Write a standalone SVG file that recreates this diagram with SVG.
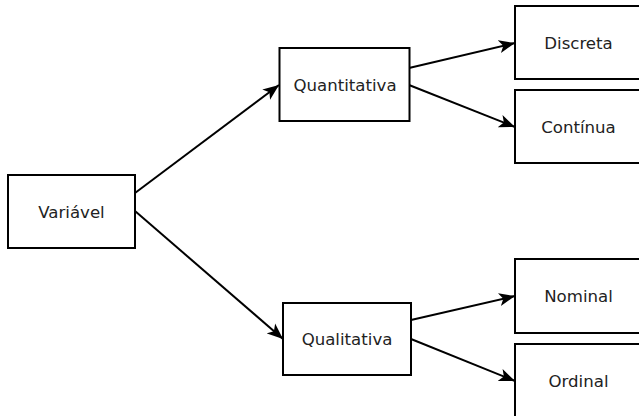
<svg xmlns="http://www.w3.org/2000/svg" width="639" height="416" viewBox="0 0 639 416">
<defs>
<marker id="arr" markerUnits="userSpaceOnUse" markerWidth="18" markerHeight="14" refX="16" refY="7" orient="auto" viewBox="0 0 18 14">
<path d="M0,0.5 L16,7 L0,13.5 L4,7 Z" fill="#000"/>
</marker>
</defs>
<style>
.box{fill:#fff;stroke:#000;stroke-width:2}
.lbl{font-family:"DejaVu Sans",sans-serif;font-size:16.6px;fill:#222;text-anchor:middle}
.edge{stroke:#000;stroke-width:2;fill:none;marker-end:url(#arr)}
</style>
<rect width="639" height="416" fill="#fff"/>
<g id="connectors">
<line class="edge" x1="135" y1="193" x2="279" y2="85"/>
<line class="edge" x1="135" y1="211" x2="283" y2="339"/>
<line class="edge" x1="409" y1="68" x2="515" y2="43"/>
<line class="edge" x1="409" y1="85" x2="515" y2="127"/>
<line class="edge" x1="411" y1="320" x2="515" y2="296"/>
<line class="edge" x1="411" y1="339" x2="515" y2="381"/>
</g>
<g id="variavel"><rect class="box" x="8" y="175" width="127" height="73"/><text class="lbl" x="71.5" y="217.5">Variável</text></g>
<g id="quantitativa"><rect class="box" x="279.5" y="48" width="130" height="73"/><text class="lbl" x="345" y="90.5">Quantitativa</text></g>
<g id="qualitativa"><rect class="box" x="283" y="303" width="128" height="72"/><text class="lbl" x="347" y="345">Qualitativa</text></g>
<g id="discreta"><rect class="box" x="515" y="6" width="127" height="73"/><text class="lbl" x="578.5" y="48.5">Discreta</text></g>
<g id="continua"><rect class="box" x="515" y="90" width="127" height="73"/><text class="lbl" x="578.5" y="132.5">Contínua</text></g>
<g id="nominal"><rect class="box" x="515" y="259" width="127" height="74"/><text class="lbl" x="578.5" y="302">Nominal</text></g>
<g id="ordinal"><rect class="box" x="515" y="344" width="127" height="74"/><text class="lbl" x="578.5" y="387">Ordinal</text></g>
</svg>
